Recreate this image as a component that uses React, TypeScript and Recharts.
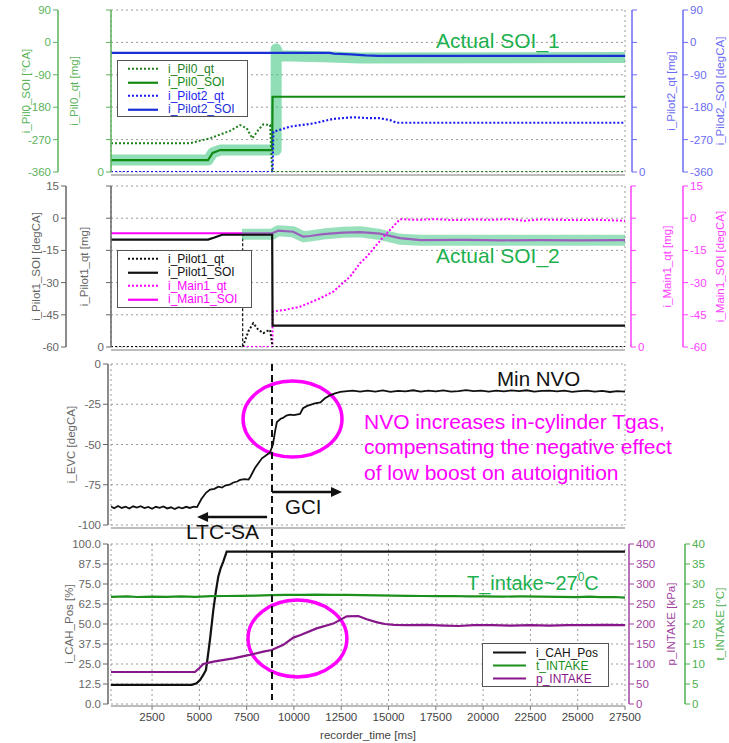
import React from "react";
import { LineChart, Line, XAxis, YAxis, CartesianGrid, ReferenceArea, ReferenceLine, Legend } from "recharts";

type Pt = [number, number];

const X_MIN = 330;
const X_MAX = 27500;
const timeTicks = [2500, 5000, 7500, 10000, 12500, 15000, 17500, 20000, 22500, 25000, 27500];

// top panel: pilot 0 / pilot 2
const soiTicks1 = [-360, -270, -180, -90, 0, 90];
const qtTicks = [0, 1, 2, 3, 4, 5];
const pil0Qt: Pt[] = [[330, 0.89], [4510, 0.89], [5565, 1.04], [6620, 1.27], [7150, 1.45], [7500, 1.35], [7800, 1.04], [8120, 1.3], [8380, 1.47], [8740, 1.45], [8850, 0], [27500, 0]];
const pil0Soi: Pt[] = [[330, -327], [5460, -327], [5700, -307], [6100, -299], [8850, -299], [8870, -151], [27500, -151]];
const pilot2Qt: Pt[] = [[330, 0], [8870, 0], [8910, 1.24], [9790, 1.4], [11030, 1.5], [12080, 1.64], [13140, 1.69], [14020, 1.66], [14550, 1.66], [15080, 1.6], [15430, 1.52], [27500, 1.52]];
const pilot2Soi: Pt[] = [[330, -29], [11900, -29], [12100, -31], [13000, -33], [13800, -36], [14500, -37.5], [27500, -37.5]];
const soi1Band: Pt[] = [[330, -327], [5460, -327], [5700, -307], [6100, -299], [9060, -299], [9060, -18], [9200, -37], [11500, -40], [13500, -43], [27500, -42]];

// second panel: pilot 1 / main 1
const soiTicks2 = [-60, -45, -30, -15, 0, 15];
const pilot1Qt: Pt[] = [[330, 0], [7290, 0], [7600, 0.5], [7850, 0.74], [8100, 0.55], [8380, 0.43], [8600, 0.5], [8740, 0.53], [8870, 0], [27500, 0]];
const pilot1Soi: Pt[] = [[330, -10], [5460, -10], [5800, -9], [6200, -7.7], [8850, -7.7], [8870, -50], [27500, -50]];
const main1Qt: Pt[] = [[330, 0], [8860, 0], [8880, 1.1], [9500, 1.15], [10320, 1.25], [11380, 1.51], [12080, 1.72], [12960, 2.18], [13490, 2.6], [13840, 2.8], [14700, 3.4], [15610, 3.97], [16500, 3.95], [17500, 3.97], [18500, 3.94], [19500, 3.96], [20500, 3.95], [21500, 3.97], [22200, 3.92], [23000, 3.96], [24000, 3.95], [25000, 3.94], [26000, 3.95], [27500, 3.92]];
const main1Soi: Pt[] = [[330, -7], [8850, -7], [9170, -5.8], [9960, -6.3], [10490, -8.6], [10850, -8.3], [11540, -7.4], [12590, -6.7], [13500, -6.5], [14550, -7.2], [15600, -9.3], [16700, -10.2], [19000, -10.1], [21000, -10.3], [23000, -10.2], [25000, -10.3], [27500, -10.2]];
const soi2Band: Pt[] = [[7250, -7.5], [8850, -7.5], [9170, -5.8], [9960, -6.3], [10490, -8.6], [10850, -8.3], [11540, -7.4], [12590, -6.5], [13500, -6.3], [14550, -7.6], [15600, -9.8], [16700, -10.3], [27500, -10.3]];

// third panel: exhaust valve closing
const evcTicks = [-100, -75, -50, -25, 0];
const evc: Pt[] = [
  [330, -88.5], [500, -89.6], [700, -88.2], [900, -89.4], [1100, -88.6], [1300, -89.8], [1500, -88.4], [1700, -89.2],
  [1900, -88.3], [2100, -89.5], [2300, -88.8], [2500, -89.9], [2700, -88.7], [2900, -89.3], [3100, -88.5], [3300, -89.7],
  [3500, -89.0], [3700, -90.1], [3900, -88.9], [4100, -89.6], [4300, -88.7], [4500, -89.4], [4700, -88.6], [4880, -88.9],
  [5100, -84], [5350, -80], [5565, -78], [5800, -77.5], [6000, -76.2], [6200, -76.8], [6360, -75.5], [6600, -75],
  [6800, -73.6], [7000, -73], [7150, -72], [7400, -71.5], [7600, -71.8], [7700, -70], [7940, -64.6], [8100, -62],
  [8310, -58.6], [8500, -57], [8730, -55], [8890, -50], [9000, -42], [9100, -36], [9300, -34], [9420, -33.5],
  [9600, -32], [9790, -31.5], [10000, -31.8], [10320, -31], [10480, -27.5], [10700, -26], [11110, -24.4], [11400, -23.8],
  [11640, -21.3], [11900, -19.5], [12170, -18.2], [12450, -17.3], [12700, -17], [13100, -16.6], [13500, -17.2], [13900, -16.5],
  [14300, -17.1], [14700, -16.4], [15100, -17.3], [15500, -16.7], [15900, -17.0], [16300, -16.3], [16700, -17.2], [17100, -16.6],
  [17500, -17.0], [17900, -16.4], [18300, -17.1], [18700, -16.8], [19100, -16.2], [19500, -16.9], [19900, -16.5], [20300, -17.2],
  [20700, -16.6], [21100, -17.0], [21500, -16.4], [21900, -16.9], [22300, -16.3], [22700, -17.1], [23100, -16.7], [23500, -16.5],
  [23900, -17.0], [24300, -16.6], [24700, -17.3], [25100, -16.8], [25500, -16.5], [25900, -17.1], [26300, -16.7], [26700, -17.4],
  [27100, -16.9], [27500, -17.2],
];

// bottom panel: air handling
const cahTicks = [0, 12.5, 25, 37.5, 50, 62.5, 75, 87.5, 100];
const kpaTicks = [0, 50, 100, 150, 200, 250, 300, 350, 400];
const degTicks = [0, 5, 10, 15, 20, 25, 30, 35, 40];
const cahPos: Pt[] = [[330, 12], [4600, 12], [4850, 13], [5035, 15], [5200, 18], [5350, 21.3], [5450, 30], [5560, 40], [5740, 58.8], [5870, 70], [6000, 79.6], [6130, 85], [6265, 89], [6445, 95.2], [27500, 95.2]];
const tIntake: Pt[] = [[330, 26.8], [1200, 26.9], [1700, 26.75], [2500, 26.85], [3300, 26.8], [4000, 26.9], [4800, 26.8], [5600, 26.95], [6400, 27.0], [7200, 27.05], [8000, 27.1], [8800, 27.2], [9600, 27.3], [10400, 27.3], [11200, 27.35], [12000, 27.3], [12800, 27.3], [13600, 27.2], [14400, 27.15], [15200, 27.1], [16000, 27.05], [16800, 27.0], [17600, 26.95], [18400, 27.0], [19200, 26.9], [20000, 26.9], [21000, 26.85], [22000, 26.9], [23000, 26.85], [24000, 26.8], [25000, 26.7], [25600, 26.85], [26200, 26.7], [27000, 26.75], [27500, 26.6]];
const pIntake: Pt[] = [[330, 80], [4770, 80], [5000, 90], [5210, 100], [5740, 106], [6800, 114], [7590, 122], [8380, 131], [8825, 135], [9440, 148], [9970, 166], [10320, 172], [11200, 189], [12080, 201], [12790, 219], [13400, 220], [13850, 212], [14400, 204], [14810, 200], [15300, 198], [16000, 197], [17000, 198], [18000, 196], [18700, 195], [19500, 197], [20500, 197], [21500, 196], [22500, 197], [23500, 196], [24500, 197], [25500, 197], [26500, 198], [27500, 197]];

const rows = (pts: Pt[]) => pts.map(([t, v]) => ({ t, v }));

const FONT = "Arial, 'Liberation Sans', sans-serif";
const GRID = "#9a9a9a";
const FRAME = "#7a7a7a";
const BAND = "#33c27a";
const MINT = "#1db04f";

const PLOT_L = 111;
const PLOT_R = 625;
const xPx = (t: number) => PLOT_L + ((t - X_MIN) / (X_MAX - X_MIN)) * (PLOT_R - PLOT_L);
const evcPx = (v: number) => 364 + (-v / 100) * 161;

// axis line/ticks nudged away from the plot frame by `shift` px
const axisStyle = (color: string, shift = 0) => ({
  axisLine: { stroke: color, strokeWidth: 1.5, transform: `translate(${shift},0)` },
  tickLine: { stroke: color, transform: `translate(${shift},0)` },
  tick: { fill: color, fontSize: 11.5 },
  tickMargin: 2 + Math.abs(shift),
  tickSize: 5,
  interval: 0 as const,
  allowDataOverflow: true,
});

const axisTitle = (value: string, color: string, side: "insideLeft" | "insideRight", offset: number) => ({
  value,
  angle: -90,
  position: side,
  offset,
  style: { textAnchor: "middle", fill: color, fontSize: 11.5 },
});

const zeroOnly = (v: number) => (v === 0 ? "0" : "");

const LegendBox = (props: any) => {
  const { payload, order, rowH, padTop, sampleW, gap } = props;
  const items = order.map((n: string) => (payload || []).find((p: any) => p.value === n)).filter(Boolean);
  return (
    <div style={{ width: "100%", height: "100%", boxSizing: "border-box", border: "1.5px solid #555", background: "#fff", paddingTop: padTop, fontFamily: FONT }}>
      {items.map((it: any) => (
        <div key={it.value} style={{ display: "flex", alignItems: "center", height: rowH }}>
          <svg width={sampleW + 10 + gap} height={rowH} style={{ flex: "none" }}>
            <line x1={10} x2={10 + sampleW} y1={rowH / 2} y2={rowH / 2} stroke={it.color} strokeWidth={2.2} strokeDasharray={it.payload?.strokeDasharray} />
          </svg>
          <span style={{ color: it.color, fontSize: 12, lineHeight: 1 }}>{it.value}</span>
        </div>
      ))}
    </div>
  );
};

const frame = (yAxisId: string) => <ReferenceArea yAxisId={yAxisId} fill="none" stroke={FRAME} strokeWidth={1.5} ifOverflow="visible" />;

const hiddenTimeAxis = (
  <XAxis
    type="number"
    dataKey="t"
    domain={[X_MIN, X_MAX]}
    ticks={timeTicks}
    allowDataOverflow
    height={8}
    tick={false}
    tickSize={4}
    axisLine={{ stroke: FRAME, transform: "translate(0,3)" }}
    tickLine={{ stroke: FRAME, transform: "translate(0,3)" }}
  />
);

const ellipseShape = (p: any) => (
  <ellipse cx={p.x + p.width / 2} cy={p.y + p.height / 2} rx={Math.abs(p.width) / 2} ry={Math.abs(p.height) / 2} fill="none" stroke="#ff00ff" strokeWidth={3.5} />
);

const line = (pts: Pt[], yAxisId: string, stroke: string, name: string, dashed = false, width = 2) => (
  <Line
    key={name}
    data={rows(pts)}
    dataKey="v"
    yAxisId={yAxisId}
    name={name}
    stroke={stroke}
    strokeWidth={width}
    strokeDasharray={dashed ? "2 2" : undefined}
    dot={false}
    activeDot={false}
    type="linear"
    isAnimationActive={false}
  />
);

// axis ids: l1/r1 sit next to the plot, l2/r2 are the outer ones
const PilotZeroPanel = () => {
  const green = "#5bb35b";
  const blue = "#6b6bf2";
  return (
    <div style={{ position: "absolute", left: 0, top: 0 }}>
      <LineChart width={729} height={180} margin={{ top: 10, right: 0, bottom: 0, left: 0 }}>
        <CartesianGrid yAxisId="l2" stroke={GRID} strokeDasharray="2 3" />
        {hiddenTimeAxis}
        <YAxis yAxisId="l1" orientation="left" width={53} domain={[0, 5]} ticks={qtTicks} tickFormatter={zeroOnly} {...axisStyle(green)} label={axisTitle("i_Pil0_qt [mg]", green, "insideLeft", 16)} />
        <YAxis yAxisId="l2" orientation="left" width={58} domain={[-360, 90]} ticks={soiTicks1} {...axisStyle(green)} label={axisTitle("i_Pil0_SOI [°CA]", green, "insideLeft", 26)} />
        <YAxis yAxisId="r1" orientation="right" width={58} domain={[0, 5]} ticks={qtTicks} tickFormatter={zeroOnly} {...axisStyle(blue, 7)} label={axisTitle("i_Pilot2_qt [mg]", blue, "insideRight", 12)} />
        <YAxis yAxisId="r2" orientation="right" width={46} domain={[-360, 90]} ticks={soiTicks1} {...axisStyle(blue)} label={axisTitle("i_Pilot2_SOI [degCA]", blue, "insideRight", 9)} />
        {frame("l2")}
        <Line data={rows(soi1Band)} dataKey="v" yAxisId="l2" stroke={BAND} strokeOpacity={0.55} strokeWidth={11} strokeLinejoin="round" strokeLinecap="round" dot={false} activeDot={false} legendType="none" isAnimationActive={false} />
        {line(pil0Soi, "l2", "#138a13", "i_Pil0_SOI", false, 2.2)}
        {line(pil0Qt, "l1", "#1f7f1f", "i_Pil0_qt", true)}
        {line(pilot2Qt, "r1", "#1c1cf0", "i_Pilot2_qt", true, 2.2)}
        {line(pilot2Soi, "r2", "#1a2fd6", "i_Pilot2_SOI", false, 2.2)}
        <Legend
          layout="vertical"
          align="center"
          verticalAlign="middle"
          wrapperStyle={{ left: 117, top: 60, width: 131, height: 57 }}
          content={(p: any) => <LegendBox {...p} order={["i_Pil0_qt", "i_Pil0_SOI", "i_Pilot2_qt", "i_Pilot2_SOI"]} rowH={13.5} padTop={1} sampleW={30} gap={10} />}
        />
      </LineChart>
    </div>
  );
};

const PilotOnePanel = () => {
  const gray = "#666";
  const pink = "#ff40ff";
  return (
    <div style={{ position: "absolute", left: 0, top: 176 }}>
      <LineChart width={729} height={179} margin={{ top: 10, right: 0, bottom: 0, left: 0 }}>
        <CartesianGrid yAxisId="l2" stroke={GRID} strokeDasharray="2 3" />
        {hiddenTimeAxis}
        <YAxis yAxisId="l1" orientation="left" width={45} domain={[0, 5]} ticks={qtTicks} tickFormatter={zeroOnly} {...axisStyle(gray)} label={axisTitle("i_Pilot1_qt [mg]", gray, "insideLeft", 18)} />
        <YAxis yAxisId="l2" orientation="left" width={66} domain={[-60, 15]} ticks={soiTicks2} {...axisStyle(gray)} label={axisTitle("i_Pilot1_SOI [degCA]", gray, "insideLeft", 36)} />
        <YAxis yAxisId="r1" orientation="right" width={58} domain={[0, 5]} ticks={qtTicks} tickFormatter={zeroOnly} {...axisStyle(pink, 6)} label={axisTitle("i_Main1_qt [mg]", pink, "insideRight", 16)} />
        <YAxis yAxisId="r2" orientation="right" width={46} domain={[-60, 15]} ticks={soiTicks2} {...axisStyle(pink)} label={axisTitle("i_Main1_SOI [degCA]", pink, "insideRight", 9)} />
        {frame("l2")}
        <ReferenceLine yAxisId="l2" segment={[{ x: 7290, y: -7 }, { x: 7290, y: -60 }]} stroke="#111" strokeWidth={1.2} strokeDasharray="3 2" />
        {line(main1Soi, "r2", "#ff00ff", "i_Main1_SOI", false, 2.2)}
        <Line data={rows(soi2Band)} dataKey="v" yAxisId="r2" stroke={BAND} strokeOpacity={0.5} strokeWidth={11} strokeLinejoin="round" dot={false} activeDot={false} legendType="none" isAnimationActive={false} />
        {line(main1Qt, "r1", "#ff00ff", "i_Main1_qt", true)}
        {line(pilot1Qt, "l1", "#111", "i_Pilot1_qt", true)}
        {line(pilot1Soi, "l2", "#111", "i_Pilot1_SOI", false, 2.2)}
        <Legend
          layout="vertical"
          align="center"
          verticalAlign="middle"
          wrapperStyle={{ left: 117, top: 74, width: 135, height: 58 }}
          content={(p: any) => <LegendBox {...p} order={["i_Pilot1_qt", "i_Pilot1_SOI", "i_Main1_qt", "i_Main1_SOI"]} rowH={13.5} padTop={1} sampleW={30} gap={10} />}
        />
      </LineChart>
    </div>
  );
};

const EvcPanel = () => {
  const gray = "#666";
  return (
    <div style={{ position: "absolute", left: 0, top: 354 }}>
      <LineChart width={729} height={179} margin={{ top: 10, right: 104, bottom: 0, left: 0 }}>
        <CartesianGrid yAxisId="l1" stroke={GRID} strokeDasharray="2 3" />
        {hiddenTimeAxis}
        <YAxis yAxisId="l1" orientation="left" width={111} domain={[-100, 0]} ticks={evcTicks} {...axisStyle(gray, -3)} label={axisTitle("i_EVC [degCA]", gray, "insideLeft", 71)} />
        {frame("l1")}
        <ReferenceArea yAxisId="l1" x1={7310} x2={12540} y1={-57.8} y2={-10.6} shape={ellipseShape} ifOverflow="visible" />
        {line(evc, "l1", "#111", "i_EVC", false, 1.8)}
      </LineChart>
    </div>
  );
};

const AirPanel = () => {
  const gray = "#666";
  const purple = "#a043a0";
  const green = "#4caf50";
  return (
    <div style={{ position: "absolute", left: 0, top: 534 }}>
      <LineChart width={729} height={210} margin={{ top: 10, right: 0, bottom: 0, left: 0 }}>
        <CartesianGrid yAxisId="l1" stroke={GRID} strokeDasharray="2 3" />
        <XAxis
          type="number"
          dataKey="t"
          domain={[X_MIN, X_MAX]}
          ticks={timeTicks}
          allowDataOverflow
          interval={0}
          height={40}
          tickSize={4}
          tickMargin={5}
          tick={{ fill: "#444", fontSize: 11.5 }}
          axisLine={{ stroke: FRAME, transform: "translate(0,2)" }}
          tickLine={{ stroke: FRAME, transform: "translate(0,2)" }}
          label={{ value: "recorder_time [ms]", position: "insideBottom", offset: 5, style: { fill: "#444", fontSize: 11.5 } }}
        />
        <YAxis yAxisId="l1" orientation="left" width={111} domain={[0, 100]} ticks={cahTicks} tickFormatter={(v: number) => v.toFixed(1)} {...axisStyle(gray, -3)} label={axisTitle("i_CAH_Pos [%]", gray, "insideLeft", 69)} />
        <YAxis yAxisId="r1" orientation="right" width={58} domain={[0, 400]} ticks={kpaTicks} {...axisStyle(purple, 4)} label={axisTitle("p_INTAKE [kPa]", purple, "insideRight", 12)} />
        <YAxis yAxisId="r2" orientation="right" width={46} domain={[0, 40]} ticks={degTicks} {...axisStyle(green, 2)} label={axisTitle("t_INTAKE [°C]", green, "insideRight", 9)} />
        {frame("l1")}
        <ReferenceArea yAxisId="l1" x1={7570} x2={12800} y1={16.9} y2={65} shape={ellipseShape} ifOverflow="visible" />
        {line(cahPos, "l1", "#111", "i_CAH_Pos", false, 2.2)}
        {line(tIntake, "r2", "#1d8f1d", "t_INTAKE", false, 2.2)}
        {line(pIntake, "r1", "#87168a", "p_INTAKE", false, 2.2)}
        <Legend
          layout="vertical"
          align="center"
          verticalAlign="middle"
          wrapperStyle={{ left: 482, top: 109, width: 127, height: 44 }}
          content={(p: any) => <LegendBox {...p} order={["i_CAH_Pos", "t_INTAKE", "p_INTAKE"]} rowH={13} padTop={2} sampleW={33} gap={10} />}
        />
      </LineChart>
    </div>
  );
};

// text, arrows and the mode-switch marker drawn over all panels
const Notes = () => {
  const switchX = xPx(8840);
  const gciY = evcPx(-79.5);
  const ltcY = evcPx(-95);
  const gciEnd = xPx(12540);
  const ltcEnd = xPx(4880);
  return (
    <svg width={729} height={743} style={{ position: "absolute", left: 0, top: 0, pointerEvents: "none", fontFamily: FONT }}>
      <line x1={switchX} x2={switchX} y1={364} y2={700} stroke="#111" strokeWidth={2} strokeDasharray="7 4" />
      <line x1={switchX} x2={gciEnd - 9} y1={gciY} y2={gciY} stroke="#111" strokeWidth={2.5} />
      <polygon points={`${gciEnd},${gciY} ${gciEnd - 11},${gciY - 5} ${gciEnd - 11},${gciY + 5}`} fill="#111" />
      <line x1={xPx(8580)} x2={ltcEnd + 9} y1={ltcY} y2={ltcY} stroke="#111" strokeWidth={2.5} />
      <polygon points={`${ltcEnd},${ltcY} ${ltcEnd + 11},${ltcY - 5} ${ltcEnd + 11},${ltcY + 5}`} fill="#111" />
      <text x={436} y={48} fontSize={21} fill={MINT}>Actual SOI_1</text>
      <text x={436} y={263} fontSize={21} fill={MINT}>Actual SOI_2</text>
      <text x={497} y={386} fontSize={20.5} fill="#111">Min NVO</text>
      <text x={364} y={429} fontSize={21} fill="#ff00ff">NVO increases in-cylinder Tgas,</text>
      <text x={364} y={454} fontSize={21} fill="#ff00ff">compensating the negative effect</text>
      <text x={364} y={480} fontSize={21} fill="#ff00ff">of low boost on autoignition</text>
      <text x={285} y={514} fontSize={20.5} fill="#111">GCI</text>
      <text x={186} y={539} fontSize={21} fill="#111">LTC-SA</text>
      <text x={467} y={590} fontSize={20} fill={MINT}>
        T_intake~27<tspan fontSize={12} dy={-9}>0</tspan><tspan dy={9}>C</tspan>
      </text>
    </svg>
  );
};

export default function App() {
  return (
    <div style={{ position: "absolute", left: 0, top: 0, width: 729, height: 743, background: "#fff", fontFamily: FONT, overflow: "hidden" }}>
      <PilotZeroPanel />
      <PilotOnePanel />
      <EvcPanel />
      <AirPanel />
      <Notes />
    </div>
  );
}
